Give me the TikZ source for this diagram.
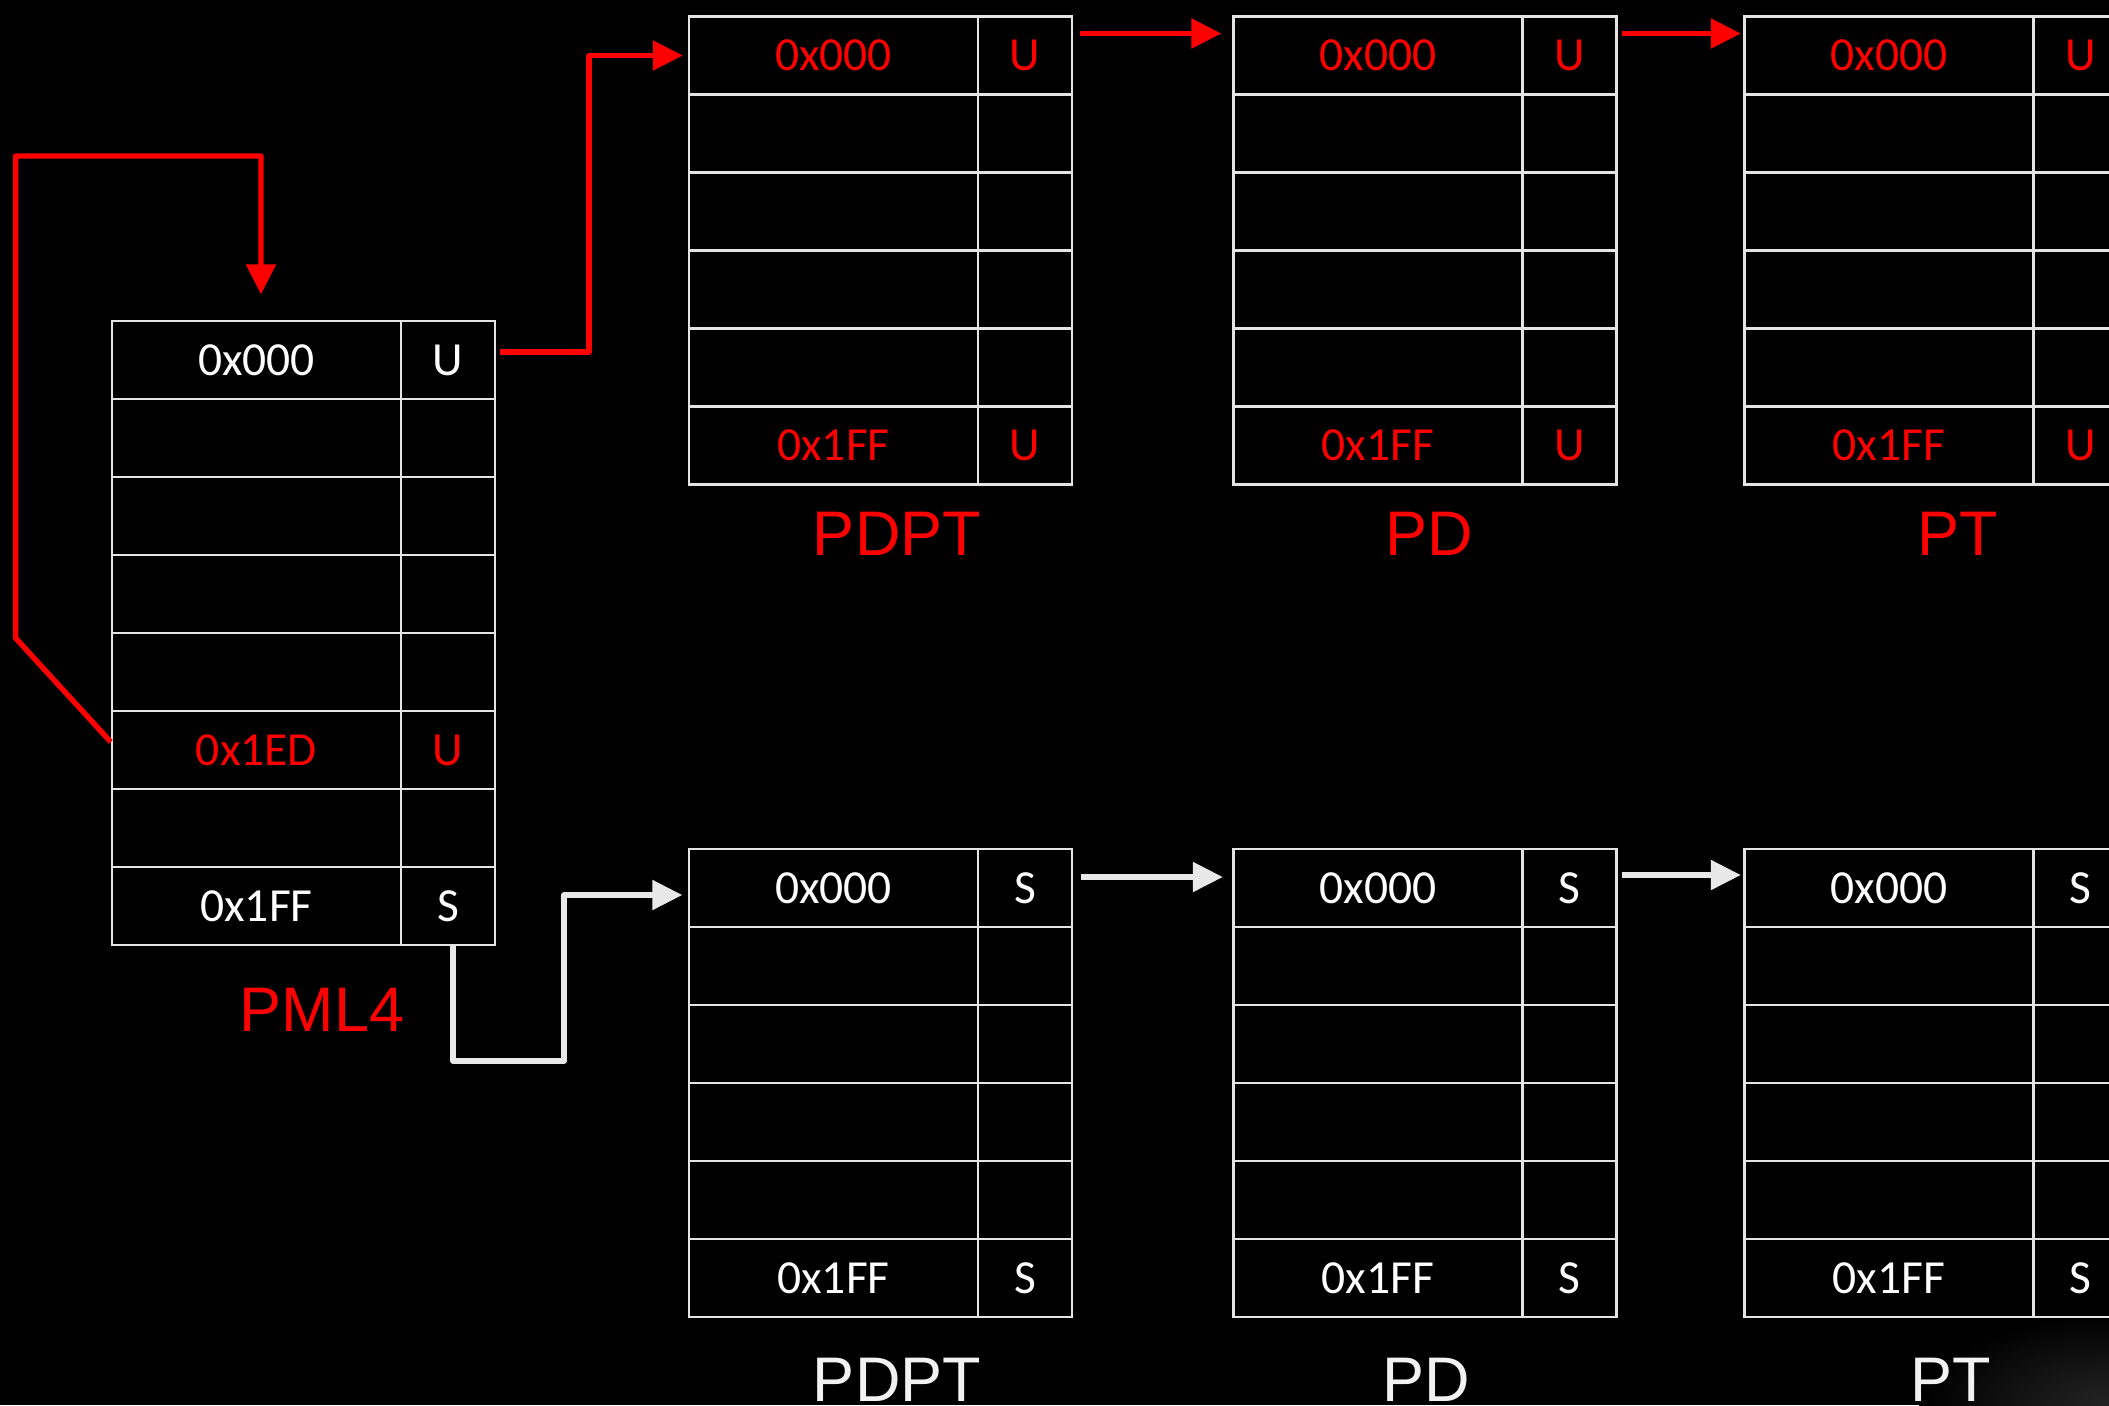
\documentclass[tikz,border=0pt]{standalone}
\usepackage{fontspec}
\setmainfont{Carlito}
\newfontfamily\labelfont{Liberation Sans}
\usetikzlibrary{arrows.meta}
\definecolor{linegray}{HTML}{E4E4E4}
\definecolor{arrowgray}{HTML}{E8E8E8}
\definecolor{pred}{HTML}{FF0000}
\definecolor{labelwhite}{HTML}{F2F2F2}
% one table row: name, row index, left x, top y, text colour, left text, right text
\newcommand{\cellrow}[7]{%
  \node[cellL,text=#5] (#1-#2-a) at ({#3+144.5},{#4+78*#2-39}) {#6};
  \node[cellR,text=#5] (#1-#2-b) at ({#3+336},{#4+78*#2-39}) {#7};
}
% a table with top row, empty middle rows and bottom row
\newcommand{\pgtable}[5]{% name, left x, top y, colour, flag text
  \cellrow{#1}{1}{#2}{#3}{#4}{0x000}{#5}
  \foreach \r in {2,...,5} {\cellrow{#1}{\r}{#2}{#3}{#4}{}{}}
  \cellrow{#1}{6}{#2}{#3}{#4}{0x1FF}{#5}
}
\begin{document}
\begin{tikzpicture}[x=0.5pt,y=-0.5pt,
  cellL/.style={draw=linegray, line width=1.2pt, minimum width=144.5pt,
    minimum height=39pt, inner sep=0pt, font=\fontsize{23.75}{28}\selectfont},
  cellR/.style={cellL, minimum width=47pt},
  tlabel/.style={font=\labelfont\fontsize{31.5}{36}\selectfont, inner sep=0pt},
  conn/.style={line width=2.7pt, line join=round,
    -{Triangle[length=15pt,width=14.5pt]}},
]
\clip (0,0) rectangle (2109,1405);
\fill[black] (0,0) rectangle (2109,1405);
\shade[inner color=black!86!white, outer color=black] (2109,1405) ellipse (95pt and 45pt);

% PML4
\cellrow{pml}{1}{112}{321}{white}{0x000}{U}
\foreach \r in {2,...,5} {\cellrow{pml}{\r}{112}{321}{white}{}{}}
\cellrow{pml}{6}{112}{321}{pred}{0x1ED}{U}
\cellrow{pml}{7}{112}{321}{white}{}{}
\cellrow{pml}{8}{112}{321}{white}{0x1FF}{S}
\node[tlabel,text=pred] (lpml) at (322,1010) {PML4};

% top chain (user)
\pgtable{tpdpt}{689}{16.5}{pred}{U}
\pgtable{tpd}{1233.5}{16.5}{pred}{U}
\pgtable{tpt}{1744.5}{16.5}{pred}{U}
\node[tlabel,text=pred] (ltpdpt) at (897,533.5) {PDPT};
\node[tlabel,text=pred] (ltpd) at (1429,533.5) {PD};
\node[tlabel,text=pred] (ltpt) at (1958,533.5) {PT};

% bottom chain (supervisor)
\pgtable{bpdpt}{689}{849}{white}{S}
\pgtable{bpd}{1233.5}{849}{white}{S}
\pgtable{bpt}{1744.5}{849}{white}{S}
\node[tlabel,text=labelwhite] (lbpdpt) at (897,1379.5) {PDPT};
\node[tlabel,text=labelwhite] (lbpd) at (1426,1379.5) {PD};
\node[tlabel,text=labelwhite] (lbpt) at (1951,1379.5) {PT};

% red connectors
\draw[conn,draw=pred] ([yshift=4pt]pml-6-a.west) -- (15.6,638) -- (15.6,156)
  -- (261,156) -- ([xshift=2.25pt,yshift=12.75pt]pml-1-a.north);
\draw[conn,draw=pred] ([xshift=2pt,yshift=4pt]pml-1-b.east) -- (589,352)
  |- ([xshift=-2.5pt]tpdpt-1-a.west);
\draw[conn,draw=pred] ([xshift=3.5pt,yshift=11pt]tpdpt-1-b.east)
  -- ([xshift=-5.5pt,yshift=11pt]tpd-1-a.west);
\draw[conn,draw=pred] ([xshift=2.25pt,yshift=11pt]tpd-1-b.east)
  -- ([xshift=-1.25pt,yshift=11pt]tpt-1-a.west);

% grey connectors
\draw[conn,draw=arrowgray] ([xshift=2.5pt]pml-8-b.south) |- (564,1061)
  |- ([xshift=-2.75pt,yshift=-3.5pt]bpdpt-1-a.west);
\draw[conn,draw=arrowgray] ([xshift=4pt,yshift=5.5pt]bpdpt-1-b.east)
  -- ([xshift=-4.75pt,yshift=5.5pt]bpd-1-a.west);
\draw[conn,draw=arrowgray] ([xshift=2.25pt,yshift=6.5pt]bpd-1-b.east)
  -- ([xshift=-1.25pt,yshift=6.5pt]bpt-1-a.west);
\end{tikzpicture}
\end{document}
